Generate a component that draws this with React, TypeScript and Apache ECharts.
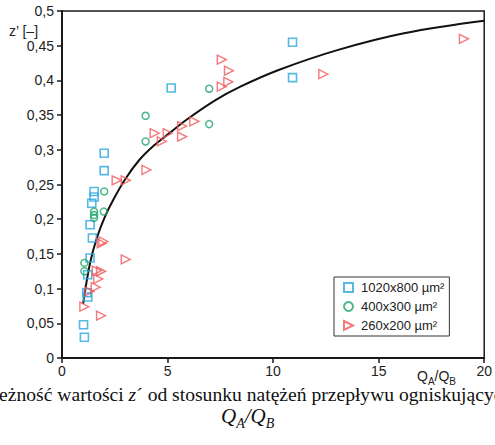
import React, { useEffect, useRef } from "react";
import * as echarts from "echarts";

const xTicks = [0, 5, 10, 15, 20];
const yTicks = [0, 0.05, 0.1, 0.15, 0.2, 0.25, 0.3, 0.35, 0.4, 0.45, 0.5];

const seriesNames = ["1020x800 µm²", "400x300 µm²", "260x200 µm²"];

const bigX = [5.17, 2.0, 2.0, 1.52, 1.52, 1.41, 1.33, 1.44, 1.33, 1.22, 1.17, 1.22, 1.02, 1.06, 10.92, 10.92];
const bigY = [0.389, 0.295, 0.27, 0.24, 0.232, 0.223, 0.192, 0.173, 0.144, 0.12, 0.094, 0.088, 0.048, 0.03, 0.455, 0.404];

const midX = [3.96, 3.96, 6.97, 6.97, 2.0, 1.52, 1.52, 1.52, 1.98, 1.06, 1.06];
const midY = [0.349, 0.312, 0.388, 0.337, 0.24, 0.211, 0.206, 0.202, 0.211, 0.137, 0.125];

const smallX = [7.57, 7.91, 7.88, 7.57, 6.27, 5.69, 5.69, 5.01, 4.39, 4.73, 4.0, 2.59, 3.02, 12.38, 19.04, 1.96, 1.88, 3.02, 1.65, 1.85, 1.72, 1.6, 1.3, 1.06, 1.85];
const smallY = [0.43, 0.414, 0.398, 0.391, 0.341, 0.334, 0.319, 0.324, 0.324, 0.312, 0.271, 0.256, 0.256, 0.409, 0.46, 0.168, 0.165, 0.142, 0.126, 0.125, 0.114, 0.102, 0.096, 0.074, 0.061];

const fitX = [1.0, 1.33, 1.65, 2.04, 2.43, 3.0, 3.68, 4.31, 5.09, 5.88, 7.29, 8.38, 10.26, 13.08, 16.2, 20];
const fitY = [0.078, 0.137, 0.173, 0.204, 0.228, 0.258, 0.286, 0.305, 0.324, 0.343, 0.372, 0.39, 0.415, 0.444, 0.468, 0.486];

const colors = ["#2aa6de", "#1fa56a", "#f0585a"];

const zip = (xs: number[], ys: number[]) => xs.map((x, i) => [x, ys[i]]);

export default function App() {
  const ref = useRef<HTMLDivElement>(null);
  useEffect(() => {
    if (!ref.current) return;
    const chart = echarts.init(ref.current, null, { renderer: "svg" });
    const sans = "Liberation Sans, Arial, sans-serif";
    const serif = "Liberation Serif, Times New Roman, serif";
    const axisCol = "#1a1a1a";
    chart.setOption({
      animation: false,
      backgroundColor: "#ffffff",
      grid: {
        left: 62,
        right: 8,
        top: 11,
        bottom: 87,
        show: true,
        borderColor: axisCol,
        borderWidth: 1.5,
        backgroundColor: "transparent",
      },
      xAxis: {
        type: "value",
        min: xTicks[0],
        max: xTicks[xTicks.length - 1],
        interval: 5,
        axisLine: { show: true, onZero: false, lineStyle: { color: axisCol, width: 2 } },
        axisTick: { show: true, inside: false, length: 5, lineStyle: { color: axisCol, width: 1.5 } },
        axisLabel: { fontSize: 14, color: "#222", fontFamily: sans, margin: 6 },
        splitLine: { show: false },
      },
      yAxis: {
        type: "value",
        min: yTicks[0],
        max: yTicks[yTicks.length - 1],
        interval: 0.05,
        axisLine: { show: true, onZero: false, lineStyle: { color: axisCol, width: 2 } },
        axisTick: { show: true, inside: false, length: 5, lineStyle: { color: axisCol, width: 1.5 } },
        axisLabel: {
          fontSize: 14,
          color: "#222",
          fontFamily: sans,
          margin: 8,
          formatter: (v: number) => String(+v.toFixed(2)).replace(".", ","),
        },
        splitLine: { show: false },
      },
      legend: {
        orient: "vertical",
        left: 334,
        top: 277,
        padding: [4, 5, 4, 9],
        itemGap: 6,
        itemWidth: 9,
        itemHeight: 9,
        borderColor: "#333",
        borderWidth: 1,
        backgroundColor: "#fff",
        textStyle: { fontSize: 13, color: "#222", fontFamily: sans, padding: [0, 0, 0, 3] },
        data: [
          { name: seriesNames[0], icon: "rect" },
          { name: seriesNames[1], icon: "circle" },
          { name: seriesNames[2], icon: "path://M0,0 L10,5 L0,10 Z" },
        ],
      },
      series: [
        {
          type: "line",
          name: "fit",
          data: zip(fitX, fitY),
          smooth: 0.4,
          showSymbol: false,
          symbol: "none",
          lineStyle: { color: "#111", width: 2 },
          z: 1,
        },
        {
          type: "scatter",
          name: seriesNames[0],
          data: zip(bigX, bigY),
          symbol: "rect",
          symbolSize: 8,
          itemStyle: { color: "transparent", borderColor: colors[0], borderWidth: 1.6 },
          z: 3,
        },
        {
          type: "scatter",
          name: seriesNames[1],
          data: zip(midX, midY),
          symbol: "circle",
          symbolSize: 7,
          itemStyle: { color: "transparent", borderColor: colors[1], borderWidth: 1.5 },
          z: 3,
        },
        {
          type: "scatter",
          name: seriesNames[2],
          data: zip(smallX, smallY),
          symbol: "triangle",
          symbolRotate: -90,
          symbolSize: 9,
          itemStyle: { color: "transparent", borderColor: colors[2], borderWidth: 1.4 },
          z: 3,
        },
      ],
      graphic: [
        {
          type: "text",
          left: 9,
          top: 24,
          style: { text: "z’ [–]", fontSize: 14, fill: "#222", fontFamily: sans },
        },
        {
          type: "text",
          x: 417,
          y: 369,
          style: {
            text: "{n|Q}{s|A}{n|/Q}{s|B}",
            rich: {
              n: { fontSize: 14, fontFamily: sans, fill: "#222", lineHeight: 15, verticalAlign: "top" },
              s: { fontSize: 10, fontFamily: sans, fill: "#222", lineHeight: 10, padding: [7, 0, 0, 0], verticalAlign: "top" },
            },
          },
        },
        {
          type: "text",
          x: -27,
          y: 394,
          style: {
            text: "{r|Zależność wartości }{i|z}{r|´ od stosunku natężeń przepływu ogniskujących}",
            verticalAlign: "middle",
            fill: "#111",
            rich: {
              r: { fontSize: 19.6, fontFamily: serif, fill: "#111" },
              i: { fontSize: 19.6, fontFamily: serif, fontStyle: "italic", fill: "#111" },
            },
          },
        },
        {
          type: "text",
          x: 221,
          y: 405,
          style: {
            text: "{n|Q}{s|A}{n|/Q}{s|B}",
            rich: {
              n: { fontSize: 21, fontFamily: serif, fontStyle: "italic", fill: "#111", lineHeight: 22, verticalAlign: "top" },
              s: { fontSize: 14, fontFamily: serif, fontStyle: "italic", fill: "#111", lineHeight: 14, padding: [11, 0, 0, 0], verticalAlign: "top" },
            },
          },
        },
      ],
    });
    return () => chart.dispose();
  }, []);
  return (
    <div
      ref={ref}
      style={{ position: "absolute", left: 0, top: 0, width: 495, height: 445, overflow: "hidden", background: "#fff" }}
    />
  );
}
